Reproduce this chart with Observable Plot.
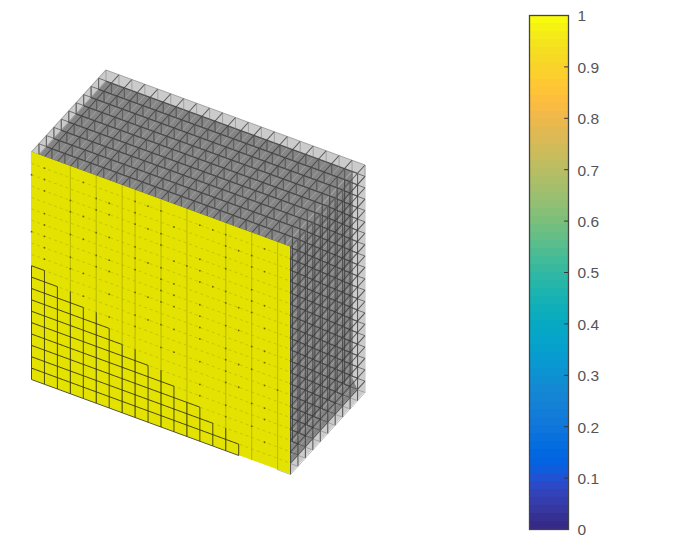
<!DOCTYPE html>
<html><head><meta charset="utf-8">
<script src="https://cdn.jsdelivr.net/npm/d3@7"></script>
<script src="https://cdn.jsdelivr.net/npm/@observablehq/plot@0.6"></script>
<style>body{margin:0;background:#fff}#c{display:flex;width:676px;height:559px}svg{display:block}</style>
</head><body><div id="c"></div>
<script>
// lattice size of the voxel block (cells along width, depth, height)
const nW = 20, nD = 10, nH = 20;
// staircase of outlined voxels on the front face
const stairHeights = [10,9,8,8,7,7,6,5,5,4,4,3,3,2,1,1];
const stairVerticals = [10,10,9,9,8,8,7,6,6,5,5,4,3,3,2,2,1];
// faint column lines on the front face
const faintColumns = [3,5,7,8,10,12,15,17,19];
// dark specks on the front face, [column, row]
const specks = [[0,18],[0,13],[1,19],[1,18],[1,17],[1,15],[1,14],[1,13],[1,12],[1,11],
[3,17],[3,16],[3,14],[3,12],[3,11],[4,19],[4,16],[4,14],[4,11],[4,9],
[5,18],[5,17],[5,15],[5,13],[5,12],[6,18],[6,17],[6,15],[6,13],[6,12],[6,10],[6,8],
[8,19],[8,18],[8,17],[8,15],[8,14],[8,13],[8,11],[8,9],[8,8],
[9,19],[9,17],[9,14],[9,11],[9,9],[10,19],[10,17],[10,16],[10,14],[10,13],[10,12],[10,11],[10,9],[10,7],
[11,18],[11,15],[11,13],[11,12],[11,11],[11,9],[11,7],[12,15],
[13,19],[13,16],[13,15],[13,14],[13,12],[13,11],[13,10],[13,9],[13,7],[13,5],[13,4],
[14,19],[14,14],[15,19],[15,18],[15,17],[15,16],[15,14],[15,13],[15,11],[15,9],[15,8],[15,7],[15,6],[15,4],[15,3],
[16,18],[16,13],[16,11],[16,8],[16,6],[17,18],[17,17],[17,15],[17,14],[17,13],[17,10],[17,8],[17,5],[17,3],
[18,19],[18,17],[18,14],[18,12],[18,10],[18,9],[18,7],[18,5],[18,4],[18,2],[19,7],
[20,19],[20,18],[20,16],[20,14],[20,12],[20,10],[20,8],[20,6],[20,4]];
// colorbar
const barTicks = [0,0.1,0.2,0.3,0.4,0.5,0.6,0.7,0.8,0.9,1];
const parula = [[.2081,.1663,.5292],[.2116,.1898,.5777],[.2123,.2138,.6270],[.2081,.2386,.6771],[.1959,.2645,.7279],[.1707,.2919,.7792],[.1253,.3242,.8303],[.0591,.3598,.8683],[.0117,.3875,.8820],[.0060,.4086,.8828],[.0165,.4266,.8786],[.0329,.4430,.8720],[.0498,.4586,.8641],[.0629,.4737,.8554],[.0723,.4887,.8467],[.0779,.5040,.8384],[.0793,.5200,.8312],[.0749,.5375,.8263],[.0641,.5570,.8240],[.0488,.5772,.8228],[.0343,.5966,.8199],[.0265,.6137,.8135],[.0239,.6287,.8038],[.0231,.6418,.7913],[.0228,.6535,.7768],[.0267,.6642,.7607],[.0384,.6743,.7436],[.0590,.6838,.7254],[.0843,.6928,.7062],[.1133,.7015,.6859],[.1453,.7098,.6646],[.1801,.7177,.6424],[.2178,.7250,.6193],[.2586,.7317,.5954],[.3022,.7376,.5712],[.3482,.7424,.5473],[.3953,.7459,.5244],[.4420,.7481,.5033],[.4871,.7491,.4840],[.5300,.7491,.4661],[.5709,.7485,.4494],[.6099,.7473,.4337],[.6473,.7456,.4188],[.6834,.7435,.4044],[.7184,.7411,.3905],[.7525,.7384,.3768],[.7858,.7356,.3633],[.8185,.7327,.3498],[.8507,.7299,.3360],[.8824,.7274,.3217],[.9139,.7258,.3063],[.9450,.7261,.2886],[.9739,.7314,.2666],[.9938,.7455,.2403],[.9990,.7653,.2164],[.9955,.7861,.1967],[.9880,.8066,.1794],[.9789,.8271,.1633],[.9697,.8481,.1475],[.9626,.8705,.1309],[.9589,.8949,.1132],[.9598,.9218,.0948],[.9661,.9514,.0755],[.9763,.9831,.0538]];

// oblique view of a lattice point (i across, j deep, r up)
const px = (i,j) => 31 + 12.95*i + 7.45*j;
const py = (i,j,r) => 379 + 4.75*i - 8.2*j - 11.375*r;
const X=p=>px(p[0],p[1]), Y=p=>py(p[0],p[1],p[2]);

// outer skin of the block and the inner, denser part seen through it
const quad=(k,a,b,c,d)=>[{k,a,b:d},{k,a:b,b:c}];
const skinLight=[...quad(0,[0,0,nH],[nW,0,nH],[nW,nD,nH],[0,nD,nH]),...quad(1,[nW,0,nH],[nW,nD,nH],[nW,nD,0],[nW,0,0])];
const skinDark=[...quad(0,[0,0,nH-1],[nW-1,0,nH-1],[nW-1,nD,nH-1],[0,nD,nH-1]),
                ...quad(1,[nW-1,0,nH-1],[nW-1,nD,nH-1],[nW-1,nD,1],[nW-1,0,1]),
                ...quad(2,[nW-1,0,1],[nW-1,nD,1],[nW,nD-1,1],[nW,0,1])];
const darkE=[],lightE=[],midE=[],edgeE=[];
const seg=(arr,s,t)=>arr.push({s,t});
// top skin r=nH and the layer under it
for(let j=0;j<=nD;j++){seg(j==nD?edgeE:darkE,[0,j,nH],[nW,j,nH]);seg(darkE,[0,j,nH-1],[nW-1,j,nH-1]);}
for(let i=0;i<=nW;i++){seg(i==0?edgeE:midE,[i,0,nH],[i,nD,nH]);seg(lightE,[i,0,nH-1],[i,nD,nH-1]);}
// right skin i=nW and the layer beside it
for(let r=0;r<=nH;r++){seg(r==0||r==nH?edgeE:midE,[nW,0,r],[nW,nD,r]);seg(lightE,[nW-1,0,r],[nW-1,nD,r]);}
for(let j=0;j<=nD;j++){seg(j==nD?edgeE:midE,[nW,j,0],[nW,j,nH]);seg(midE,[nW-1,j,1],[nW-1,j,nH-1]);}
// pillars between the skins
for(let i=0;i<=nW;i++)for(let j=0;j<=nD;j++)seg(edgeE,[i,j,nH],[i,j,nH-1]);
for(let i=0;i<nW;i++)for(let j=0;j<nD;j++)seg(midE,[i,j,nH],[i,j,nH-1]);
for(let j=0;j<=nD;j++)for(let r=1;r<nH;r++)seg(darkE,[nW,j,r],[nW-1,j,r]);
for(let j=0;j<=nD;j++){seg(edgeE,[nW,j,0],[nW-1,j,0]);}

const front=[{a:[0,0,0],b:[0,0,nH],k:0},{a:[nW,0,0],b:[nW,0,nH],k:0}];
const stairRows=[];
stairHeights.forEach((h,c)=>{for(let r=0;r<=h;r++)stairRows.push({s:[c,0,r],t:[c+1,0,r]});});
const stairCols=stairVerticals.map((h,b)=>({s:[b,0,0],t:[b,0,h]}));
const faintRows=d3.range(1,nH).map(r=>({s:[0,0,r],t:[nW,0,r]}));
const faintCols=faintColumns.map(c=>({s:[c,0,0],t:[c,0,nH]}));
const link=(data,o)=>Plot.link(data,{x1:d=>X(d.s),y1:d=>Y(d.s),x2:d=>X(d.t),y2:d=>Y(d.t),...o});
const area=(data,o)=>Plot.area(data,{x1:d=>X(d.a),y1:d=>Y(d.a),x2:d=>X(d.b),y2:d=>Y(d.b),z:"k",...o});

const cube=Plot.plot({width:500,height:559,margin:0,
  x:{domain:[0,500],range:[0,500],axis:null},y:{domain:[559,0],range:[559,0],axis:null},
  style:{filter:"blur(0.5px)"},
  marks:[
    area(skinLight,{fill:"#cbcbcb"}),
    area(skinDark,{fill:"#858585"}),
    link(lightE,{stroke:"#a4a4a4",strokeWidth:1,strokeOpacity:0.85}),
    link(midE,{stroke:"#3c3c3c",strokeWidth:1.1,strokeOpacity:0.8}),
    link(darkE,{stroke:"#333",strokeWidth:1,strokeOpacity:0.6}),
    link(edgeE,{stroke:"#777",strokeWidth:0.9,strokeOpacity:0.55}),
    area(front,{fill:"#e3e200"}),
    link(faintRows,{stroke:"#a8a800",strokeWidth:0.8,strokeDasharray:"3,3",strokeOpacity:0.6}),
    link(faintCols,{stroke:"#a0a000",strokeWidth:1.1,strokeOpacity:0.55}),
    Plot.dot(specks,{x:d=>px(d[0],0),y:d=>py(d[0],0,d[1]),r:0.9,fill:"#555500",fillOpacity:0.8}),
    link(stairRows,{stroke:"#35350a",strokeWidth:1,strokeOpacity:0.85}),
    link(stairCols,{stroke:"#35350a",strokeWidth:1,strokeOpacity:0.85})
  ]});

const bar=Plot.plot({width:176,height:559,marginLeft:29,marginRight:108,marginTop:15,marginBottom:30,
  x:{domain:[0,1],axis:null},y:{domain:[0,1]},
  style:{fontFamily:"Liberation Sans, Arial, sans-serif"},
  marks:[
    Plot.rect(parula,{x1:0,x2:1,y1:(d,i)=>i/parula.length,y2:(d,i)=>(i+1)/parula.length,
      fill:d=>`rgb(${d.map(v=>Math.round(v*255)).join(",")})`,shapeRendering:"crispEdges"}),
    Plot.ruleY(barTicks.slice(1,-1),{x1:0.9,x2:1,stroke:"#333",strokeWidth:1}),
    Plot.axisY({anchor:"right",ticks:barTicks,tickSize:0,tickPadding:9,label:null,fontSize:15.5,color:"#555",tickFormat:d=>String(d),textAnchor:"start",dy:1}),
    Plot.frame({stroke:"#444",strokeWidth:1.3})
  ]});
document.getElementById("c").append(cube,bar);
</script></body></html>
